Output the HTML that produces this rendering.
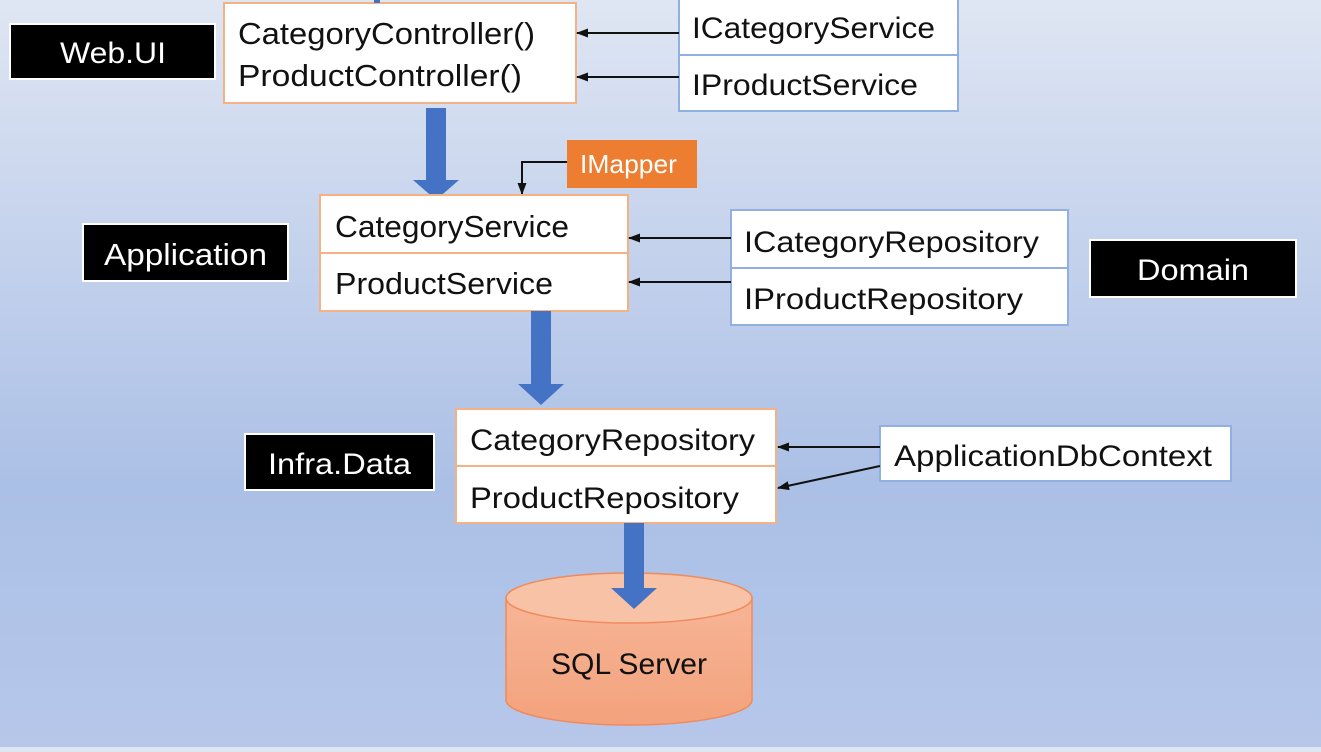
<!DOCTYPE html>
<html><head><meta charset="utf-8"><style>
html,body{margin:0;padding:0;}
body{width:1321px;height:747px;overflow:hidden;background:linear-gradient(180deg,#dfe6f3 0%,#c3d1ec 35%,#abc0e6 65%,#b6c7ea 100%);font-family:"Liberation Sans",sans-serif;}
svg text{font-family:"Liberation Sans",sans-serif;}
</style></head><body>
<svg width="1321" height="747" viewBox="0 0 1321 747" xmlns="http://www.w3.org/2000/svg">
<defs>
<marker id="ah" markerWidth="12" markerHeight="12" refX="11" refY="6" orient="auto" markerUnits="userSpaceOnUse"><path d="M0,1.5 L12,6 L0,10.5 z" fill="#111"/></marker>
<linearGradient id="cyl" x1="0" y1="0" x2="0" y2="1"><stop offset="0" stop-color="#f6b596"/><stop offset="1" stop-color="#f3a27c"/></linearGradient>
</defs>
<rect x="10" y="24" width="205" height="55" fill="#000" stroke="#fff" stroke-width="2"/>
<text x="60" y="63" font-size="30" fill="#fff" textLength="106" lengthAdjust="spacingAndGlyphs">Web.UI</text>
<rect x="83" y="224" width="205" height="57" fill="#000" stroke="#fff" stroke-width="2"/>
<text x="104" y="265" font-size="31" fill="#fff" textLength="163" lengthAdjust="spacingAndGlyphs">Application</text>
<rect x="1090" y="240" width="206" height="57" fill="#000" stroke="#fff" stroke-width="2"/>
<text x="1137" y="280" font-size="30" fill="#fff" textLength="112" lengthAdjust="spacingAndGlyphs">Domain</text>
<rect x="245" y="434" width="189" height="56" fill="#000" stroke="#fff" stroke-width="2"/>
<text x="268" y="474" font-size="30" fill="#fff" textLength="143" lengthAdjust="spacingAndGlyphs">Infra.Data</text>

<rect x="224" y="3" width="352" height="100" fill="#fff" stroke="#f4b183" stroke-width="2"/>
<text x="238" y="44" font-size="31" fill="#111" textLength="297" lengthAdjust="spacingAndGlyphs">CategoryController()</text>
<text x="238" y="86" font-size="31" fill="#111" textLength="284" lengthAdjust="spacingAndGlyphs">ProductController()</text>
<rect x="679" y="-2" width="279" height="57" fill="#fff" stroke="#8fb0e0" stroke-width="2"/>
<rect x="679" y="55" width="279" height="56" fill="#fff" stroke="#8fb0e0" stroke-width="2"/>
<text x="692" y="38" font-size="30" fill="#111" textLength="243" lengthAdjust="spacingAndGlyphs">ICategoryService</text>
<text x="692" y="95" font-size="30" fill="#111" textLength="226" lengthAdjust="spacingAndGlyphs">IProductService</text>
<line x1="679" y1="33" x2="577" y2="33" stroke="#111" stroke-width="2" marker-end="url(#ah)"/>
<line x1="679" y1="77" x2="577" y2="77" stroke="#111" stroke-width="2" marker-end="url(#ah)"/>

<path d="M426,108 H446 V180 H459 L436,200 L413,180 H426 Z" fill="#4472c4"/>

<rect x="567" y="140" width="130" height="48" fill="#ed7d31"/>
<text x="580" y="173" font-size="26" fill="#fff" textLength="97" lengthAdjust="spacingAndGlyphs">IMapper</text>
<polyline points="567,162 522,162 522,194" fill="none" stroke="#111" stroke-width="2" marker-end="url(#ah)"/>

<rect x="320" y="195" width="308" height="116" fill="#fff" stroke="#f4b183" stroke-width="2"/>
<line x1="320" y1="253" x2="628" y2="253" stroke="#f4b183" stroke-width="2"/>
<text x="335" y="237" font-size="31" fill="#111" textLength="234" lengthAdjust="spacingAndGlyphs">CategoryService</text>
<text x="335" y="294" font-size="31" fill="#111" textLength="218" lengthAdjust="spacingAndGlyphs">ProductService</text>
<rect x="731" y="210" width="337" height="58" fill="#fff" stroke="#8fb0e0" stroke-width="2"/>
<rect x="731" y="268" width="337" height="57" fill="#fff" stroke="#8fb0e0" stroke-width="2"/>
<text x="744" y="252" font-size="30" fill="#111" textLength="295" lengthAdjust="spacingAndGlyphs">ICategoryRepository</text>
<text x="744" y="309" font-size="30" fill="#111" textLength="279" lengthAdjust="spacingAndGlyphs">IProductRepository</text>
<line x1="731" y1="238" x2="629" y2="238" stroke="#111" stroke-width="2" marker-end="url(#ah)"/>
<line x1="731" y1="282" x2="629" y2="282" stroke="#111" stroke-width="2" marker-end="url(#ah)"/>

<path d="M531,311 H551 V384 H564 L541,405 L518,384 H531 Z" fill="#4472c4"/>

<rect x="456" y="409" width="320" height="114" fill="#fff" stroke="#f4b183" stroke-width="2"/>
<line x1="456" y1="466" x2="776" y2="466" stroke="#f4b183" stroke-width="2"/>
<text x="470" y="450" font-size="30" fill="#111" textLength="285" lengthAdjust="spacingAndGlyphs">CategoryRepository</text>
<text x="470" y="508" font-size="30" fill="#111" textLength="269" lengthAdjust="spacingAndGlyphs">ProductRepository</text>
<rect x="880" y="426" width="351" height="55" fill="#fff" stroke="#8fb0e0" stroke-width="2"/>
<text x="894" y="466" font-size="30" fill="#111" textLength="318" lengthAdjust="spacingAndGlyphs">ApplicationDbContext</text>
<line x1="880" y1="447" x2="778" y2="447" stroke="#111" stroke-width="2" marker-end="url(#ah)"/>
<line x1="880" y1="466" x2="778" y2="488" stroke="#111" stroke-width="2" marker-end="url(#ah)"/>

<path d="M506,598 V700 A123,25 0 0 0 752,700 V598 Z" fill="url(#cyl)" stroke="#f08a5a" stroke-width="1.5"/>
<ellipse cx="629" cy="598" rx="123" ry="25" fill="#f8c2a6" stroke="#f08a5a" stroke-width="1.5"/>
<text x="551" y="674" font-size="30" fill="#111" textLength="156" lengthAdjust="spacingAndGlyphs">SQL Server</text>

<path d="M624,523 H644 V588 H657 L634,609 L611,588 H624 Z" fill="#4472c4"/>
<rect x="374" y="0" width="6" height="3" fill="#4472c4"/>
</svg>
</body></html>
